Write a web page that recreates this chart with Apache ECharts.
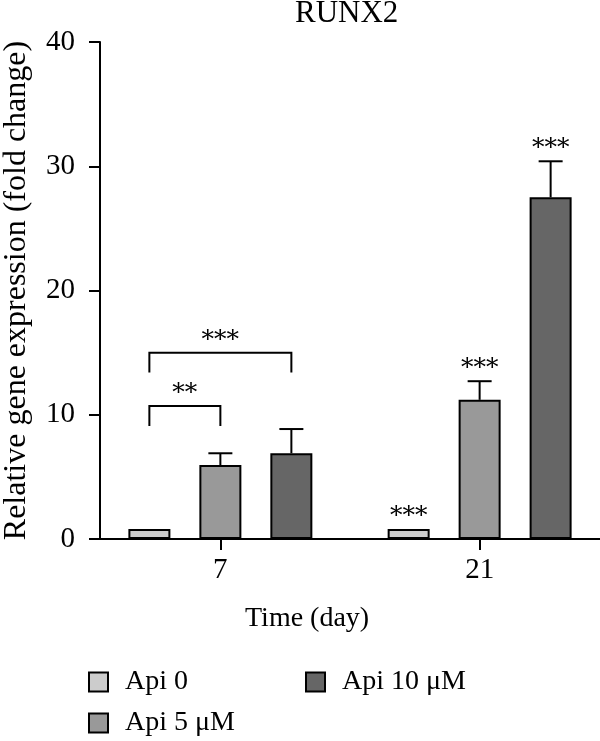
<!DOCTYPE html>
<html>
<head>
<meta charset="utf-8">
<script src="https://cdn.jsdelivr.net/npm/echarts@6/dist/echarts.min.js"></script>
<style>
html,body{margin:0;padding:0;background:#fff;}
#chart{width:600px;height:741px;}
</style>
</head>
<body>
<div id="chart"></div>
<script>
// ---- data ----
const days = [7, 21];
const seriesNames = ['Api 0', 'Api 5 \u03bcM', 'Api 10 \u03bcM'];
const api0 = [0.8, 0.8];
const api5 = [5.95, 11.2];
const api10 = [6.9, 27.5];
const err0 = [0, 0];
const err5 = [0.95, 1.5];
const err10 = [1.95, 2.9];
const sig0 = ['', '***'];
const sig5 = ['', '***'];
const sig10 = ['', '***'];
// comparison brackets (day 7)
const bracketDay = [7, 7];
const bracketFrom = [0, 0];
const bracketTo = [1, 2];
const bracketTop = [10.7, 15.0];
const bracketLeg = [9.1, 13.4];
const bracketLabel = ['**', '***'];
const yTicks = [0, 10, 20, 30, 40];

// ---- styles ----
const FONT = 'Liberation Serif';
const STAR_FONT = '25px "DejaVu Serif"';
const colors = ['#cccccc', '#999999', '#666666'];
const BAR_W = 42;
const BAR_STEP = 71;
const offsets = [-BAR_STEP, 0, BAR_STEP];

const values = [api0, api5, api10];
const errs = [err0, err5, err10];
const sigs = [sig0, sig5, sig10];

const chart = echarts.init(document.getElementById('chart'));

const series = [];
seriesNames.forEach((name, i) => {
  series.push({
    name: name,
    type: 'bar',
    barWidth: BAR_W,
    barGap: ((BAR_STEP - BAR_W) / BAR_W * 100).toFixed(1) + '%',
    itemStyle: { color: colors[i], borderColor: '#000', borderWidth: 2 },
    data: days.map((d, k) => [d, values[i][k]]),
    z: 2
  });
});
seriesNames.forEach((name, i) => {
  series.push({
    type: 'custom',
    silent: true,
    z: 3,
    encode: { x: 0, y: 1 },
    data: days.map((d, k) => [d, values[i][k], errs[i][k], k]),
    renderItem: function (params, api) {
      const x = api.value(0), y = api.value(1), e = api.value(2), k = api.value(3);
      const base = api.coord([x, y]);
      const top = api.coord([x, y + e]);
      const px = base[0] + offsets[i];
      const children = [];
      if (e > 0) {
        children.push({ type: 'line', shape: { x1: px, y1: base[1], x2: px, y2: top[1] }, style: { stroke: '#000', lineWidth: 2 } });
        children.push({ type: 'line', shape: { x1: px - 12, y1: top[1], x2: px + 12, y2: top[1] }, style: { stroke: '#000', lineWidth: 2 } });
      }
      const s = sigs[i][k];
      if (s) {
        children.push({ type: 'text', style: { text: s, x: px, y: top[1], align: 'center', verticalAlign: 'bottom', font: STAR_FONT, fill: '#000' } });
      }
      return { type: 'group', children: children };
    }
  });
});
series.push({
  type: 'custom',
  silent: true,
  z: 3,
  encode: { x: 0, y: 1 },
  data: bracketDay.map((d, k) => [d, bracketTop[k], bracketLeg[k], bracketFrom[k], bracketTo[k], k]),
  renderItem: function (params, api) {
    const d = api.value(0), t = api.value(1), l = api.value(2), f = api.value(3), to = api.value(4), k = api.value(5);
    const pt = api.coord([d, t]);
    const pl = api.coord([d, l]);
    const x1 = pt[0] + offsets[f], x2 = pt[0] + offsets[to];
    return {
      type: 'group',
      children: [
        { type: 'polyline', shape: { points: [[x1, pl[1]], [x1, pt[1]], [x2, pt[1]], [x2, pl[1]]] }, style: { stroke: '#000', lineWidth: 2, fill: null } },
        { type: 'text', style: { text: bracketLabel[k], x: (x1 + x2) / 2, y: pt[1], align: 'center', verticalAlign: 'bottom', font: STAR_FONT, fill: '#000' } }
      ]
    };
  }
});

const option = {
  backgroundColor: '#fff',
  animation: false,
  title: [
    { text: 'RUNX2', left: 295, top: -2, padding: 0, textStyle: { fontFamily: FONT, fontSize: 31, fontWeight: 'normal', color: '#000' } },
    { text: 'Time (day)', left: 245, top: 605, padding: 0, textStyle: { fontFamily: FONT, fontSize: 28, fontWeight: 'normal', color: '#000' } }
  ],
  legend: [
    {
      data: [seriesNames[0], seriesNames[1]],
      orient: 'vertical', left: 88, top: 668, padding: 0,
      itemWidth: 19, itemHeight: 19, itemGap: 13, icon: 'rect',
      itemStyle: { borderColor: '#000', borderWidth: 2 },
      textStyle: { fontFamily: FONT, fontSize: 28, color: '#000', padding: [0, 0, 0, 12] }
    },
    {
      data: [seriesNames[2]],
      orient: 'vertical', left: 305, top: 668, padding: 0,
      itemWidth: 19, itemHeight: 19, icon: 'rect',
      itemStyle: { borderColor: '#000', borderWidth: 2 },
      textStyle: { fontFamily: FONT, fontSize: 28, color: '#000', padding: [0, 0, 0, 12] }
    }
  ],
  grid: { left: 100, right: 0, top: 42, bottom: 202, containLabel: false, outerBoundsMode: 'none' },
  xAxis: {
    type: 'value', min: 0.5, max: 27.5,
    splitLine: { show: false },
    axisLine: { show: true, onZero: true, lineStyle: { color: '#000', width: 2 } },
    axisTick: { show: true, customValues: days, length: 11, lineStyle: { color: '#000', width: 2 } },
    axisLabel: { customValues: days, margin: 17, fontFamily: FONT, fontSize: 29, color: '#000' }
  },
  yAxis: {
    type: 'value', min: 0, max: 40, interval: 10,
    name: 'Relative gene expression (fold change)',
    nameLocation: 'middle', nameGap: 67,
    nameTextStyle: { fontFamily: FONT, fontSize: 32, color: '#000' },
    splitLine: { show: false },
    axisLine: { show: true, lineStyle: { color: '#000', width: 2 } },
    axisTick: { show: true, length: 11, lineStyle: { color: '#000', width: 2 } },
    axisLabel: { margin: 25, fontFamily: FONT, fontSize: 29, color: '#000',
      formatter: function (v) { return yTicks.indexOf(v) >= 0 ? String(v) : ''; } }
  },
  series: series
};
chart.setOption(option);
</script>
</body>
</html>
